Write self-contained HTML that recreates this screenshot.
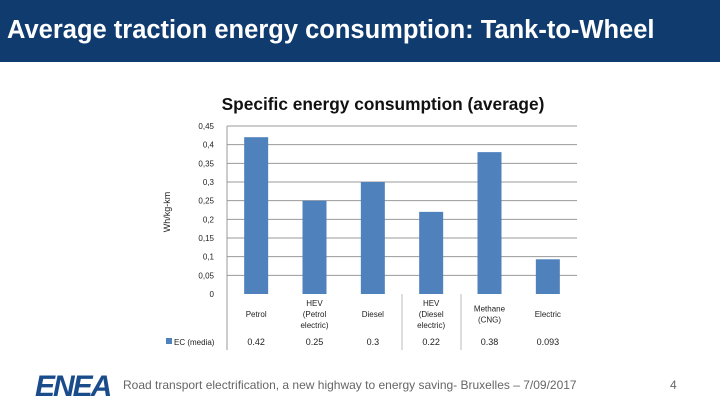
<!DOCTYPE html>
<html><head><meta charset="utf-8"><style>
body{margin:0;width:720px;height:405px;background:#fff;overflow:hidden;font-family:"Liberation Sans",sans-serif;position:relative}
#hdr{position:absolute;left:0;top:0;width:720px;height:62px;background:#0f3b6e}
#hdr span{position:absolute;left:7px;top:16px;color:#fff;font-weight:bold;font-size:25.5px;white-space:nowrap}
#foot{position:absolute;left:123px;top:378px;font-size:12px;color:#666}
#pg{position:absolute;left:670px;top:378px;font-size:12px;color:#666}
#logo{position:absolute;left:35px;top:370px;font-size:30px;font-weight:900;color:#1a4c8c;letter-spacing:-2px;font-style:italic}
</style></head><body>
<div id="hdr"><span>Average traction energy consumption: Tank-to-Wheel</span></div>
<svg id="chart" width="720" height="405" style="position:absolute;left:0;top:0"></svg>
<div id="logo">ENEA</div>
<div id="foot">Road transport electrification, a new highway to energy saving- Bruxelles – 7/09/2017</div>
<div id="pg">4</div>
<script>
const categories=[["Petrol"],["HEV","(Petrol","electric)"],["Diesel"],["HEV","(Diesel","electric)"],["Methane","(CNG)"],["Electric"]];
const values=[0.42,0.25,0.3,0.22,0.38,0.093];
const valueLabels=["0.42","0.25","0.3","0.22","0.38","0.093"];
const ticks=[0,0.05,0.1,0.15,0.2,0.25,0.3,0.35,0.4,0.45];
const tickLabels=["0","0,05","0,1","0,15","0,2","0,25","0,3","0,35","0,4","0,45"];
const svg=document.getElementById('chart');const NS="http://www.w3.org/2000/svg";
const x0=227,x1=577,yTop=126,yBot=294,ymax=0.45;
const y=v=>yBot-(v/ymax)*(yBot-yTop);
const cw=(x1-x0)/categories.length;const xc=i=>x0+cw*(i+0.5);
function mk(t,a,txt){const e=document.createElementNS(NS,t);for(const k in a)e.setAttribute(k,a[k]);if(txt!==undefined)e.textContent=txt;svg.appendChild(e);return e;}
let e=mk('text',{x:383,y:110,'text-anchor':'middle','font-size':17.3,'font-weight':'bold',fill:'#111'},'Specific energy consumption (average)');


e=mk('text',{x:0,y:0,transform:'translate(170,212) rotate(-90)','text-anchor':'middle','font-size':9,fill:'#222'},'Wh/kg-km');


ticks.forEach((t,i)=>{
 if(t>0){e=mk('line',{x1:x0,x2:x1,y1:y(t),y2:y(t),stroke:'#999','stroke-width':1});
 
 }
 e=mk('text',{x:214,y:y(t)+3,'text-anchor':'end','font-size':8,fill:'#222'},tickLabels[i]);
 
 
});
mk('line',{x1:x0,x2:x0,y1:yTop,y2:350,stroke:'#999'});
mk('line',{x1:402,x2:402,y1:294,y2:350,stroke:'#bbb'});
mk('line',{x1:461,x2:461,y1:294,y2:350,stroke:'#bbb'});
values.forEach((v,i)=>{
 e=mk('rect',{x:xc(i)-12,y:y(v),width:24,height:yBot-y(v),fill:'#4f81bd'});
 
 
 const lines=categories[i];const sy=317-(lines.length-1)*5.5;
 lines.forEach((l,j)=>{e=mk('text',{x:xc(i),y:sy+j*11,'text-anchor':'middle','font-size':8,fill:'#222'},l);
 
 });
 e=mk('text',{x:xc(i),y:345,'text-anchor':'middle','font-size':9,fill:'#222'},valueLabels[i]);
 
 
});
e=mk('rect',{x:166,y:338,width:6,height:6,fill:'#4f81bd'});


e=mk('text',{x:174,y:345,'font-size':8,fill:'#222'},'EC (media)');


</script>
</body></html>
